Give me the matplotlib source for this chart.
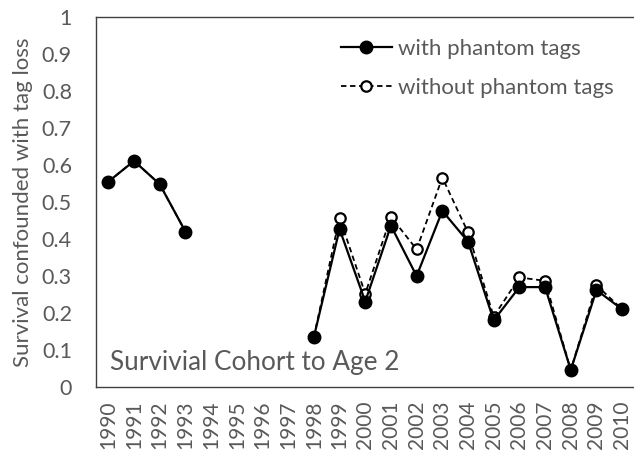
import numpy as np
import matplotlib
matplotlib.use("Agg")
import matplotlib.pyplot as plt

years = [str(y) for y in range(1990, 2011)]
with_phantom = [0.555, 0.611, 0.548, 0.42, np.nan, np.nan, np.nan, np.nan,
                0.135, 0.427, 0.231, 0.436, 0.30, 0.476, 0.393, 0.18,
                0.27, 0.27, 0.046, 0.262, 0.21]
without_phantom = [0.555, 0.611, 0.548, 0.42, np.nan, np.nan, np.nan, np.nan,
                   0.135, 0.458, 0.252, 0.46, 0.372, 0.566, 0.418, 0.19,
                   0.296, 0.287, 0.046, 0.275, 0.21]
yticks = [0, 0.1, 0.2, 0.3, 0.4, 0.5, 0.6, 0.7, 0.8, 0.9, 1]
ytick_labels = ["0", "0.1", "0.2", "0.3", "0.4", "0.5", "0.6", "0.7", "0.8", "0.9", "1"]

plt.rcParams['font.family'] = ['Lato', 'DejaVu Sans']
gray = '#595959'

fig = plt.figure(figsize=(6.34, 4.57), dpi=100)
ax = fig.add_axes([95.5/634, 70/457, 539.5/634, 370/457])

x = np.arange(len(years))
ax.plot(x, without_phantom, linestyle=(0, (3, 2)), color='black', linewidth=1.3,
        marker='o', markersize=7.5, markerfacecolor='white', markeredgecolor='black',
        markeredgewidth=1.6, label='without phantom tags', zorder=2)
ax.plot(x, with_phantom, linestyle='-', color='black', linewidth=1.6,
        marker='o', markersize=9, markerfacecolor='black', markeredgecolor='black',
        label='with phantom tags', zorder=3)

ax.set_xlim(-0.5, 20.5)
ax.set_ylim(0, 1)
ax.set_xticks(x)
ax.set_xticklabels(years, rotation=90, fontsize=15, color=gray)
ax.set_yticks(yticks)
ax.set_yticklabels(ytick_labels, fontsize=15.5, color=gray)
ax.tick_params(axis='x', length=0, pad=10)
ax.tick_params(axis='y', length=0, pad=17)
for s in ax.spines.values():
    s.set_color('#404040')
    s.set_linewidth(1.0)

ax.set_ylabel('Survival confounded with tag loss', fontsize=16, color=gray, labelpad=6)

h, l = ax.get_legend_handles_labels()
leg = ax.legend(h[::-1], l[::-1], loc='upper left', bbox_to_anchor=(0.438, 0.965),
                frameon=False, fontsize=16, handlelength=2.3, handletextpad=0.3,
                labelspacing=0.85, borderaxespad=0)
for t in leg.get_texts():
    t.set_color(gray)

ax.text(0.027, 0.065, 'Survivial Cohort to Age 2', transform=ax.transAxes,
        fontsize=18.8, color=gray, va='center', ha='left')

fig.savefig('out.png', dpi=100)
